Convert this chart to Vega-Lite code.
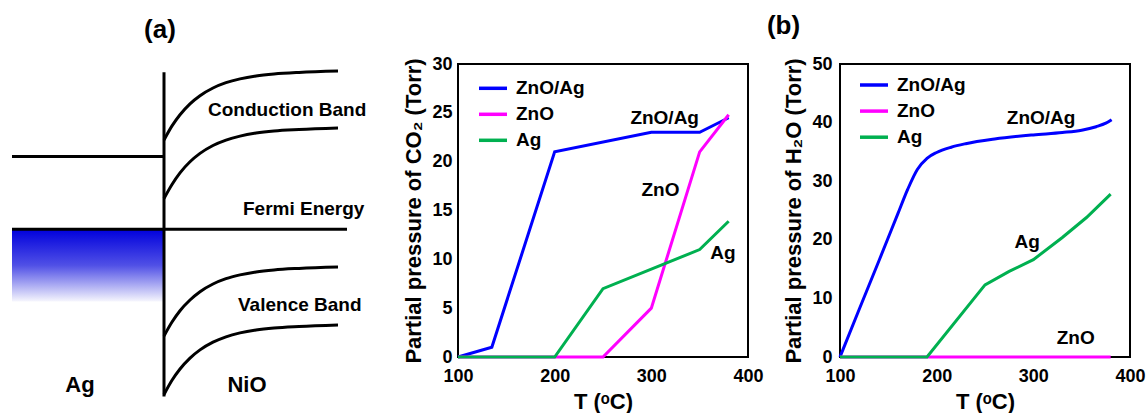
{
  "$schema": "https://vega.github.io/schema/vega-lite/v6.json",
  "padding": {"left": 10, "top": 11, "right": 0, "bottom": 0},
  "spacing": 92,
  "bounds": "flush",
  "resolve": {"scale": {"color": "independent"}, "legend": {"color": "independent"}},
  "config": {
    "font": "Liberation Sans",
    "view": {"stroke": "black", "strokeWidth": 2},
    "axis": {"labelFont": "Liberation Sans", "labelFontWeight": "bold", "labelFontSize": 18, "labelColor": "black", "titleFont": "Liberation Sans", "titleFontSize": 22, "titleFontWeight": "bold", "titleColor": "black", "domain": false, "grid": false, "ticks": false, "labelFlush": false, "labelOverlap": false},
    "legend": {"orient": "none", "title": null, "symbolType": "stroke", "symbolSize": 784, "symbolStrokeWidth": 3.5, "labelFont": "Liberation Sans", "labelFontSize": 19, "labelFontWeight": "bold", "labelColor": "black", "labelOffset": 7, "padding": 0, "labelLimit": 0},
    "text": {"font": "Liberation Sans", "fontWeight": "bold", "color": "black"}
  },
  "hconcat": [
    {
      "width": 354, "height": 293,
      "view": {"stroke": null},
      "layer": [
        {
          "data": {"values": [{"x1": 0, "x2": 152, "e1": 55.5, "e2": 127.8}]},
          "mark": {"type": "rect", "color": {"gradient": "linear", "x1": 0, "y1": 0, "x2": 0, "y2": 1, "stops": [{"offset": 0, "color": "#0000dc"}, {"offset": 0.5, "color": "#5050e6"}, {"offset": 1, "color": "#f6f6fd"}]}},
          "encoding": {
            "x": {"field": "x1", "type": "quantitative", "scale": {"domain": [0, 354], "nice": false, "zero": false}, "axis": null},
            "x2": {"field": "x2"},
            "y": {"field": "e1", "type": "quantitative", "scale": {"domain": [0, 293], "nice": false, "zero": false}, "axis": null},
            "y2": {"field": "e2"}
          }
        },
        {
          "data": {"values": [
            {"x1": 152, "x2": 152, "e1": -39.5, "e2": 284.8},
            {"x1": 0, "x2": 152, "e1": 200.5, "e2": 200.5},
            {"x1": 0, "x2": 335, "e1": 127.8, "e2": 127.8}
          ]},
          "mark": {"type": "rule", "strokeWidth": 3, "color": "black"},
          "encoding": {
            "x": {"field": "x1", "type": "quantitative", "scale": {"domain": [0, 354], "nice": false, "zero": false}, "axis": null},
            "x2": {"field": "x2"},
            "y": {"field": "e1", "type": "quantitative", "scale": {"domain": [0, 293], "nice": false, "zero": false}, "axis": null},
            "y2": {"field": "e2"}
          }
        },
        {
          "data": {"values": [
            {"c": "cb1", "x": 152, "e": 217}, {"c": "cb1", "x": 160, "e": 231.1}, {"c": "cb1", "x": 168, "e": 242.3}, {"c": "cb1", "x": 178, "e": 253.2}, {"c": "cb1", "x": 188, "e": 261.3}, {"c": "cb1", "x": 201, "e": 269.0}, {"c": "cb1", "x": 214, "e": 274.3}, {"c": "cb1", "x": 228, "e": 278.1}, {"c": "cb1", "x": 244, "e": 281.0}, {"c": "cb1", "x": 262, "e": 283.0}, {"c": "cb1", "x": 287, "e": 284.6}, {"c": "cb1", "x": 326, "e": 286},
            {"c": "cb2", "x": 152, "e": 158.5}, {"c": "cb2", "x": 160, "e": 172.5}, {"c": "cb2", "x": 168, "e": 184.1}, {"c": "cb2", "x": 178, "e": 195.2}, {"c": "cb2", "x": 188, "e": 203.6}, {"c": "cb2", "x": 201, "e": 211.5}, {"c": "cb2", "x": 214, "e": 216.9}, {"c": "cb2", "x": 228, "e": 220.9}, {"c": "cb2", "x": 244, "e": 223.9}, {"c": "cb2", "x": 262, "e": 226.0}, {"c": "cb2", "x": 287, "e": 227.5}, {"c": "cb2", "x": 326, "e": 229},
            {"c": "vb1", "x": 152, "e": 21}, {"c": "vb1", "x": 160, "e": 35.0}, {"c": "vb1", "x": 168, "e": 46.3}, {"c": "vb1", "x": 178, "e": 57.0}, {"c": "vb1", "x": 188, "e": 65.3}, {"c": "vb1", "x": 201, "e": 73.0}, {"c": "vb1", "x": 214, "e": 78.3}, {"c": "vb1", "x": 228, "e": 82.1}, {"c": "vb1", "x": 244, "e": 85.1}, {"c": "vb1", "x": 262, "e": 87.1}, {"c": "vb1", "x": 287, "e": 88.6}, {"c": "vb1", "x": 326, "e": 90},
            {"c": "vb2", "x": 152, "e": -37.5}, {"c": "vb2", "x": 160, "e": -23.3}, {"c": "vb2", "x": 168, "e": -12.0}, {"c": "vb2", "x": 178, "e": -1.1}, {"c": "vb2", "x": 188, "e": 7.1}, {"c": "vb2", "x": 201, "e": 14.8}, {"c": "vb2", "x": 214, "e": 20.2}, {"c": "vb2", "x": 228, "e": 24.1}, {"c": "vb2", "x": 244, "e": 27.0}, {"c": "vb2", "x": 262, "e": 29.0}, {"c": "vb2", "x": 287, "e": 30.5}, {"c": "vb2", "x": 326, "e": 32}
          ]},
          "mark": {"type": "line", "strokeWidth": 3, "color": "black", "interpolate": "monotone"},
          "encoding": {
            "x": {"field": "x", "type": "quantitative", "scale": {"domain": [0, 354], "nice": false, "zero": false}, "axis": null},
            "y": {"field": "e", "type": "quantitative", "scale": {"domain": [0, 293], "nice": false, "zero": false}, "axis": null},
            "detail": {"field": "c", "type": "nominal"}
          }
        },
        {
          "data": {"values": [
            {"x": 196, "e": 247.5, "t": "Conduction Band"},
            {"x": 231, "e": 148.5, "t": "Fermi Energy"},
            {"x": 226, "e": 52, "t": "Valence Band"}
          ]},
          "mark": {"type": "text", "fontSize": 19, "align": "left", "baseline": "middle"},
          "encoding": {
            "x": {"field": "x", "type": "quantitative", "scale": {"domain": [0, 354], "nice": false, "zero": false}, "axis": null},
            "y": {"field": "e", "type": "quantitative", "scale": {"domain": [0, 293], "nice": false, "zero": false}, "axis": null},
            "text": {"field": "t"}
          }
        },
        {
          "data": {"values": [
            {"x": 68, "e": -28, "t": "Ag"},
            {"x": 235, "e": -28, "t": "NiO"}
          ]},
          "mark": {"type": "text", "fontSize": 22, "align": "center", "baseline": "middle"},
          "encoding": {
            "x": {"field": "x", "type": "quantitative", "scale": {"domain": [0, 354], "nice": false, "zero": false}, "axis": null},
            "y": {"field": "e", "type": "quantitative", "scale": {"domain": [0, 293], "nice": false, "zero": false}, "axis": null},
            "text": {"field": "t"}
          }
        },
        {
          "data": {"values": [{"x": 148, "e": 327.5, "t": "(a)"}]},
          "mark": {"type": "text", "fontSize": 26, "align": "center", "baseline": "middle"},
          "encoding": {
            "x": {"field": "x", "type": "quantitative", "scale": {"domain": [0, 354], "nice": false, "zero": false}, "axis": null},
            "y": {"field": "e", "type": "quantitative", "scale": {"domain": [0, 293], "nice": false, "zero": false}, "axis": null},
            "text": {"field": "t"}
          }
        }
      ]
    },
    {
      "width": 290, "height": 293,
      "data": {"values": [
        {"s": "ZnO/Ag", "T": 100, "P": 0}, {"s": "ZnO/Ag", "T": 135, "P": 1}, {"s": "ZnO/Ag", "T": 200, "P": 21}, {"s": "ZnO/Ag", "T": 300, "P": 23}, {"s": "ZnO/Ag", "T": 350, "P": 23}, {"s": "ZnO/Ag", "T": 380, "P": 24.5},
        {"s": "ZnO", "T": 100, "P": 0}, {"s": "ZnO", "T": 250, "P": 0}, {"s": "ZnO", "T": 300, "P": 5}, {"s": "ZnO", "T": 350, "P": 21}, {"s": "ZnO", "T": 380, "P": 24.8},
        {"s": "Ag", "T": 100, "P": 0}, {"s": "Ag", "T": 200, "P": 0}, {"s": "Ag", "T": 250, "P": 7}, {"s": "Ag", "T": 350, "P": 11}, {"s": "Ag", "T": 380, "P": 13.9}
      ]},
      "encoding": {
        "y": {"field": "P", "type": "quantitative", "scale": {"domain": [0, 30], "nice": false, "zero": true}, "axis": {"values": [0, 5, 10, 15, 20, 25, 30], "labelPadding": 6, "title": "Partial pressure of CO₂ (Torr)", "titlePadding": 6}}
      },
      "layer": [
        {
          "data": {"values": [{"T": 120}, {"T": 140}, {"T": 160}, {"T": 180}, {"T": 220}, {"T": 240}, {"T": 260}, {"T": 280}, {"T": 320}, {"T": 340}, {"T": 360}, {"T": 380}]},
          "mark": {"type": "rule", "strokeWidth": 1.5, "color": "black"},
          "encoding": {
            "x": {"field": "T", "type": "quantitative", "scale": {"domain": [100, 400], "nice": false, "zero": false}},
            "y": {"datum": 0},
            "y2": {"datum": 0.5}
          }
        },
        {
          "data": {"values": [{"T": 200}, {"T": 300}]},
          "mark": {"type": "rule", "strokeWidth": 1.5, "color": "black"},
          "encoding": {
            "x": {"field": "T", "type": "quantitative", "scale": {"domain": [100, 400], "nice": false, "zero": false}},
            "y": {"datum": 0},
            "y2": {"datum": 0.9}
          }
        },
        {
          "mark": {"type": "line", "strokeWidth": 3},
          "encoding": {
            "x": {"field": "T", "type": "quantitative", "scale": {"domain": [100, 400], "nice": false, "zero": false}, "axis": {"values": [100, 200, 300, 400], "labelPadding": 10, "title": "T (ᵒC)", "titlePadding": 6}},
            "color": {"field": "s", "type": "nominal", "scale": {"domain": ["ZnO/Ag", "ZnO", "Ag"], "range": ["#0000ff", "#ff00ff", "#00b050"]}, "legend": {"legendX": 19, "legendY": 8.3, "rowPadding": -1.4}}
          }
        },
        {
          "data": {"values": [
            {"T": 313.8, "P": 24.45, "label": "ZnO/Ag"},
            {"T": 309.5, "P": 17.07, "label": "ZnO"},
            {"T": 374, "P": 10.6, "label": "Ag"}
          ]},
          "mark": {"type": "text", "fontSize": 19, "align": "center", "baseline": "middle"},
          "encoding": {
            "x": {"field": "T", "type": "quantitative", "scale": {"domain": [100, 400], "nice": false, "zero": false}},
            "text": {"field": "label"}
          }
        }
      ]
    },
    {
      "width": 290, "height": 293,
      "data": {"values": [
        {"s": "ZnO/Ag", "T": 100, "P": 0}, {"s": "ZnO/Ag", "T": 120, "P": 8.2}, {"s": "ZnO/Ag", "T": 140, "P": 16.3}, {"s": "ZnO/Ag", "T": 160, "P": 24.5}, {"s": "ZnO/Ag", "T": 170, "P": 28.6}, {"s": "ZnO/Ag", "T": 180, "P": 32.0}, {"s": "ZnO/Ag", "T": 190, "P": 33.9}, {"s": "ZnO/Ag", "T": 200, "P": 34.9}, {"s": "ZnO/Ag", "T": 215, "P": 35.8}, {"s": "ZnO/Ag", "T": 230, "P": 36.4}, {"s": "ZnO/Ag", "T": 260, "P": 37.2}, {"s": "ZnO/Ag", "T": 300, "P": 37.9}, {"s": "ZnO/Ag", "T": 330, "P": 38.3}, {"s": "ZnO/Ag", "T": 350, "P": 38.7}, {"s": "ZnO/Ag", "T": 365, "P": 39.3}, {"s": "ZnO/Ag", "T": 375, "P": 39.9}, {"s": "ZnO/Ag", "T": 381, "P": 40.5},
        {"s": "ZnO", "T": 100, "P": 0}, {"s": "ZnO", "T": 380, "P": 0},
        {"s": "Ag", "T": 100, "P": 0}, {"s": "Ag", "T": 190, "P": 0}, {"s": "Ag", "T": 250, "P": 12.3}, {"s": "Ag", "T": 275, "P": 14.6}, {"s": "Ag", "T": 300, "P": 16.6}, {"s": "Ag", "T": 330, "P": 20.4}, {"s": "Ag", "T": 355, "P": 23.8}, {"s": "Ag", "T": 380, "P": 27.8}
      ]},
      "encoding": {
        "y": {"field": "P", "type": "quantitative", "scale": {"domain": [0, 50], "nice": false, "zero": true}, "axis": {"values": [0, 10, 20, 30, 40, 50], "labelPadding": 8, "title": "Partial pressure of H₂O (Torr)", "titlePadding": 6}}
      },
      "layer": [
        {
          "data": {"values": [{"T": 120}, {"T": 140}, {"T": 160}, {"T": 180}, {"T": 220}, {"T": 240}, {"T": 260}, {"T": 280}, {"T": 320}, {"T": 340}, {"T": 360}, {"T": 380}]},
          "mark": {"type": "rule", "strokeWidth": 1.5, "color": "black"},
          "encoding": {
            "x": {"field": "T", "type": "quantitative", "scale": {"domain": [100, 400], "nice": false, "zero": false}},
            "y": {"datum": 0},
            "y2": {"datum": 0.85}
          }
        },
        {
          "data": {"values": [{"T": 200}, {"T": 300}]},
          "mark": {"type": "rule", "strokeWidth": 1.5, "color": "black"},
          "encoding": {
            "x": {"field": "T", "type": "quantitative", "scale": {"domain": [100, 400], "nice": false, "zero": false}},
            "y": {"datum": 0},
            "y2": {"datum": 1.6}
          }
        },
        {
          "transform": [{"filter": "datum.s == 'ZnO/Ag'"}],
          "mark": {"type": "line", "strokeWidth": 3, "interpolate": "monotone"},
          "encoding": {
            "x": {"field": "T", "type": "quantitative", "scale": {"domain": [100, 400], "nice": false, "zero": false}, "axis": {"values": [100, 200, 300, 400], "labelPadding": 10, "title": "T (ᵒC)", "titlePadding": 6}},
            "color": {"field": "s", "type": "nominal", "scale": {"domain": ["ZnO/Ag", "ZnO", "Ag"], "range": ["#0000ff", "#ff00ff", "#00b050"]}, "legend": {"legendX": 18, "legendY": 5, "rowPadding": 0.1}}
          }
        },
        {
          "transform": [{"filter": "datum.s != 'ZnO/Ag'"}],
          "mark": {"type": "line", "strokeWidth": 3},
          "encoding": {
            "x": {"field": "T", "type": "quantitative", "scale": {"domain": [100, 400], "nice": false, "zero": false}},
            "color": {"field": "s", "type": "nominal", "scale": {"domain": ["ZnO/Ag", "ZnO", "Ag"], "range": ["#0000ff", "#ff00ff", "#00b050"]}, "legend": {"legendX": 18, "legendY": 5, "rowPadding": 0.1}}
          }
        },
        {
          "data": {"values": [
            {"T": 308, "P": 40.8, "label": "ZnO/Ag"},
            {"T": 293.7, "P": 19.7, "label": "Ag"},
            {"T": 343.8, "P": 3.3, "label": "ZnO"}
          ]},
          "mark": {"type": "text", "fontSize": 19, "align": "center", "baseline": "middle"},
          "encoding": {
            "x": {"field": "T", "type": "quantitative", "scale": {"domain": [100, 400], "nice": false, "zero": false}},
            "text": {"field": "label"}
          }
        },
        {
          "data": {"values": [{"T": 41.6, "P": 56.5, "label": "(b)"}]},
          "mark": {"type": "text", "fontSize": 26, "align": "center", "baseline": "middle"},
          "encoding": {
            "x": {"field": "T", "type": "quantitative", "scale": {"domain": [100, 400], "nice": false, "zero": false}},
            "text": {"field": "label"}
          }
        }
      ]
    }
  ]
}
